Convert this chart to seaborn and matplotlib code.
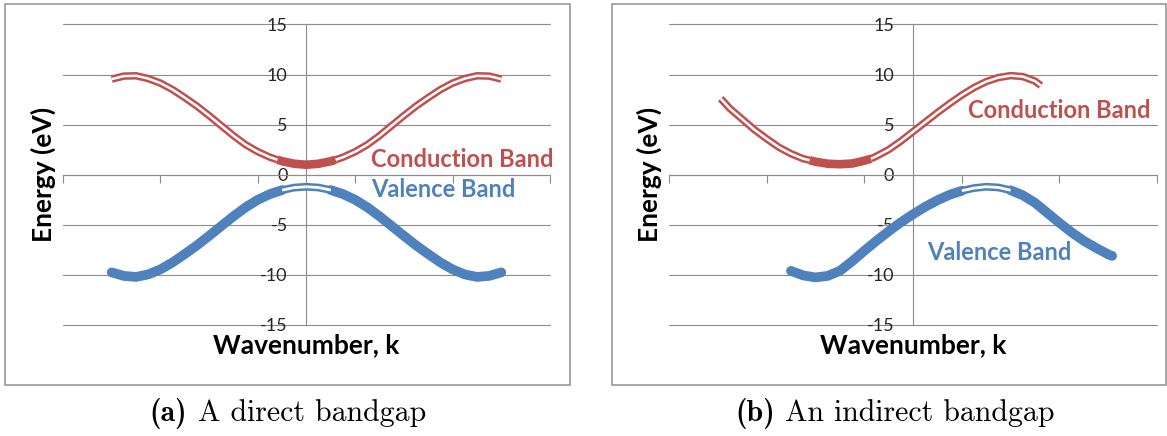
import matplotlib
matplotlib.use("Agg")
import matplotlib.pyplot as plt
import matplotlib.patheffects as pe
from matplotlib.patches import Rectangle
import pandas as pd
import seaborn as sns

# ---------------- (a) direct bandgap ----------------
k_cb_a = [-2.0, -1.875, -1.75, -1.625, -1.5, -1.375, -1.25, -1.125, -1.0, -0.875,
          -0.75, -0.625, -0.5, -0.375, -0.3, -0.25, -0.125, 0.0, 0.125, 0.25, 0.3,
          0.375, 0.5, 0.625, 0.75, 0.875, 1.0, 1.125, 1.25, 1.375, 1.5, 1.625,
          1.75, 1.875, 2.0]
e_cb_a = [9.55, 9.85, 9.88, 9.6, 9.15, 8.5, 7.7, 6.85, 5.9, 4.9,
          3.9, 3.0, 2.3, 1.75, 1.5, 1.35, 1.1, 1.0, 1.1, 1.35, 1.5,
          1.75, 2.3, 3.0, 3.9, 4.9, 5.9, 6.85, 7.7, 8.5, 9.15, 9.6,
          9.88, 9.85, 9.55]

k_vb_a = [-2.0, -1.875, -1.75, -1.625, -1.5, -1.375, -1.25, -1.125, -1.0, -0.875,
          -0.75, -0.625, -0.5, -0.375, -0.25, -0.125, 0.0, 0.125, 0.25, 0.375,
          0.5, 0.625, 0.75, 0.875, 1.0, 1.125, 1.25, 1.375, 1.5, 1.625, 1.75,
          1.875, 2.0]
e_vb_a = [-9.75, -10.1, -10.2, -9.95, -9.45, -8.75, -7.92, -7.05, -6.1, -5.12,
          -4.15, -3.25, -2.5, -1.93, -1.53, -1.28, -1.2, -1.28, -1.53, -1.93,
          -2.5, -3.25, -4.15, -5.12, -6.1, -7.05, -7.92, -8.75, -9.45, -9.95, -10.2,
          -10.1, -9.75]

# ---------------- (b) indirect bandgap ----------------
k_cb_b = [-1.97, -1.875, -1.75, -1.625, -1.5, -1.375, -1.25, -1.125, -1.06, -1.0,
          -0.875, -0.75, -0.625, -0.5, -0.43, -0.375, -0.25, -0.125, 0.0, 0.125,
          0.25, 0.375, 0.5, 0.625, 0.75, 0.875, 1.0, 1.125, 1.25, 1.31]
e_cb_b = [7.6, 6.6, 5.55, 4.5, 3.6, 2.75, 2.1, 1.6, 1.45, 1.3,
          1.1, 1.05, 1.12, 1.4, 1.6, 1.85, 2.5, 3.35, 4.3, 5.25,
          6.2, 7.1, 7.95, 8.7, 9.3, 9.7, 9.9, 9.8, 9.35, 8.9]

k_vb_b = [-1.25, -1.125, -1.0, -0.875, -0.75, -0.625, -0.5, -0.375, -0.25, -0.125,
          0.0, 0.125, 0.25, 0.375, 0.5, 0.625, 0.75, 0.875, 1.0, 1.125,
          1.25, 1.375, 1.5, 1.625, 1.75, 1.875, 2.0, 2.04]
e_vb_b = [-9.6, -10.05, -10.25, -10.1, -9.6, -8.65, -7.6, -6.6, -5.65, -4.75,
          -3.95, -3.2, -2.55, -2.0, -1.6, -1.33, -1.2, -1.27, -1.55, -2.05,
          -2.8, -3.8, -4.8, -5.75, -6.6, -7.3, -7.95, -8.1]

# k-ranges where each band switches line style
cb_span_a = (-0.3, 0.3)
vb_span_a = (-0.25, 0.25)
cb_span_b = (-1.06, -0.43)
vb_span_b = (0.5, 1.0)

# band label anchors (k, E at text baseline)
cb_label_a = (0.66, 0.75)
vb_label_a = (0.66, -2.25)
cb_label_b = (0.56, 5.65)
vb_label_b = (0.14, -8.55)

y_ticks = [-15, -10, -5, 0, 5, 10, 15]
x_ticks = [-2.5, -1.5, -0.5, 0.5, 1.5, 2.5]
band_names = ["Conduction Band", "Valence Band"]
x_title = "Wavenumber, k"
y_title = "Energy (eV)"
caption_tags = ["(a)", "(b)"]
caption_texts = ["A direct bandgap", "An indirect bandgap"]

RED = "#C0504D"
BLUE = "#4F81BD"
GRID = "#8c8c8c"

sns.set_style("white")
plt.rcParams["font.family"] = ["Lato", "DejaVu Sans"]
plt.rcParams["axes.unicode_minus"] = False

fig = plt.figure(figsize=(11.67, 4.36), dpi=100)


def pieces(k, e, span):
    df = pd.DataFrame({"k": k, "E": e})
    lo, hi = span
    return (df[df.k <= lo], df[(df.k >= lo) & (df.k <= hi)], df[df.k >= hi])


def double_line(ax, df, color, outer, inner):
    sns.lineplot(data=df, x="k", y="E", ax=ax, sort=False, estimator=None,
                 color="white", linewidth=inner, solid_capstyle="butt",
                 path_effects=[pe.Stroke(linewidth=outer, foreground=color,
                                         capstyle="butt"), pe.Normal()],
                 zorder=4)


def solid_line(ax, df, color, width, cap):
    sns.lineplot(data=df, x="k", y="E", ax=ax, sort=False, estimator=None,
                 color=color, linewidth=width, solid_capstyle=cap, zorder=3)


def panel(rect, kc, ec, cspan, kv, ev, vspan, clab, vlab):
    ax = fig.add_axes(rect)
    ax.set_xlim(-2.5, 2.5)
    ax.set_ylim(-15, 15)

    # conduction band: outlined line, solid near its minimum
    c_left, c_mid, c_right = pieces(kc, ec, cspan)
    double_line(ax, c_left, RED, 5.4, 1.8)
    double_line(ax, c_right, RED, 5.4, 1.8)
    solid_line(ax, c_mid, RED, 6.2, "butt")

    # valence band: solid line, outlined near its maximum
    v_left, v_mid, v_right = pieces(kv, ev, vspan)
    solid_line(ax, v_left, BLUE, 7.0, "round")
    solid_line(ax, v_right, BLUE, 7.0, "round")
    double_line(ax, v_mid, BLUE, 5.6, 2.0)

    ax.text(*clab, band_names[0], color=RED, fontsize=17, fontweight="bold",
            ha="left", va="baseline", zorder=5)
    ax.text(*vlab, band_names[1], color=BLUE, fontsize=17, fontweight="bold",
            ha="left", va="baseline", zorder=5)

    # axes crossing at the origin
    for side in ("top", "right"):
        ax.spines[side].set_visible(False)
    ax.spines["left"].set_position(("data", 0))
    ax.spines["bottom"].set_position(("data", 0))
    for side in ("left", "bottom"):
        ax.spines[side].set_color(GRID)
        ax.spines[side].set_linewidth(0.8)
        ax.spines[side].set_zorder(1)

    ax.set_yticks(y_ticks)
    ax.set_xticks(x_ticks)
    ax.yaxis.grid(True, color=GRID, linewidth=0.8)
    ax.xaxis.grid(False)
    for gl in ax.get_ygridlines():
        gl.set_clip_on(False)
    ax.set_axisbelow(True)
    ax.tick_params(axis="y", left=False, length=0, pad=13.5, labelsize=13,
                   labelcolor="#262626")
    ax.tick_params(axis="x", bottom=True, direction="out", length=6, width=0.8,
                   color=GRID, labelbottom=False)

    ax.set_xlabel(x_title, fontsize=19, fontweight="bold", color="black")
    ax.xaxis.set_label_coords(0.5, -0.092)
    ax.xaxis.label.set_va("baseline")
    ax.set_ylabel(y_title, fontsize=19, fontweight="bold", color="black")
    ax.yaxis.set_label_coords(-0.041, 0.5)
    ax.yaxis.label.set_va("center")
    return ax


panel([0.05398, 0.25459, 0.41731, 0.68922],
      k_cb_a, e_cb_a, cb_span_a, k_vb_a, e_vb_a, vb_span_a, cb_label_a, vb_label_a)
panel([0.57326, 0.25459, 0.41817, 0.68922],
      k_cb_b, e_cb_b, cb_span_b, k_vb_b, e_vb_b, vb_span_b, cb_label_b, vb_label_b)

# chart frames
for x0, w in ((0.004284, 0.48415), (0.52442, 0.47472)):
    fig.add_artist(Rectangle((x0, 0.11697), w, 0.87385, transform=fig.transFigure,
                             fill=False, edgecolor="#8f8f8f", linewidth=1.1))

# sub-captions: bold tag followed by roman text, centred as one line
renderer = fig.canvas.get_renderer()
fig_w = fig.bbox.width
cap_size = 21.5
gap_px = 0.36 * cap_size * fig.dpi / 72
for xc, tag, txt in zip((0.24636, 0.76692), caption_tags, caption_texts):
    t_tag = fig.text(0, 0.0344, tag, family="cmb10", fontsize=cap_size,
                     ha="left", va="baseline", color="black")
    t_txt = fig.text(0, 0.0344, txt, family="cmr10", fontsize=cap_size,
                     ha="left", va="baseline", color="black")
    w_tag = t_tag.get_window_extent(renderer).width
    w_txt = t_txt.get_window_extent(renderer).width
    x_left = xc * fig_w - (w_tag + gap_px + w_txt) / 2
    t_tag.set_x(x_left / fig_w)
    t_txt.set_x((x_left + w_tag + gap_px) / fig_w)

fig.savefig("out.png", dpi=100)
